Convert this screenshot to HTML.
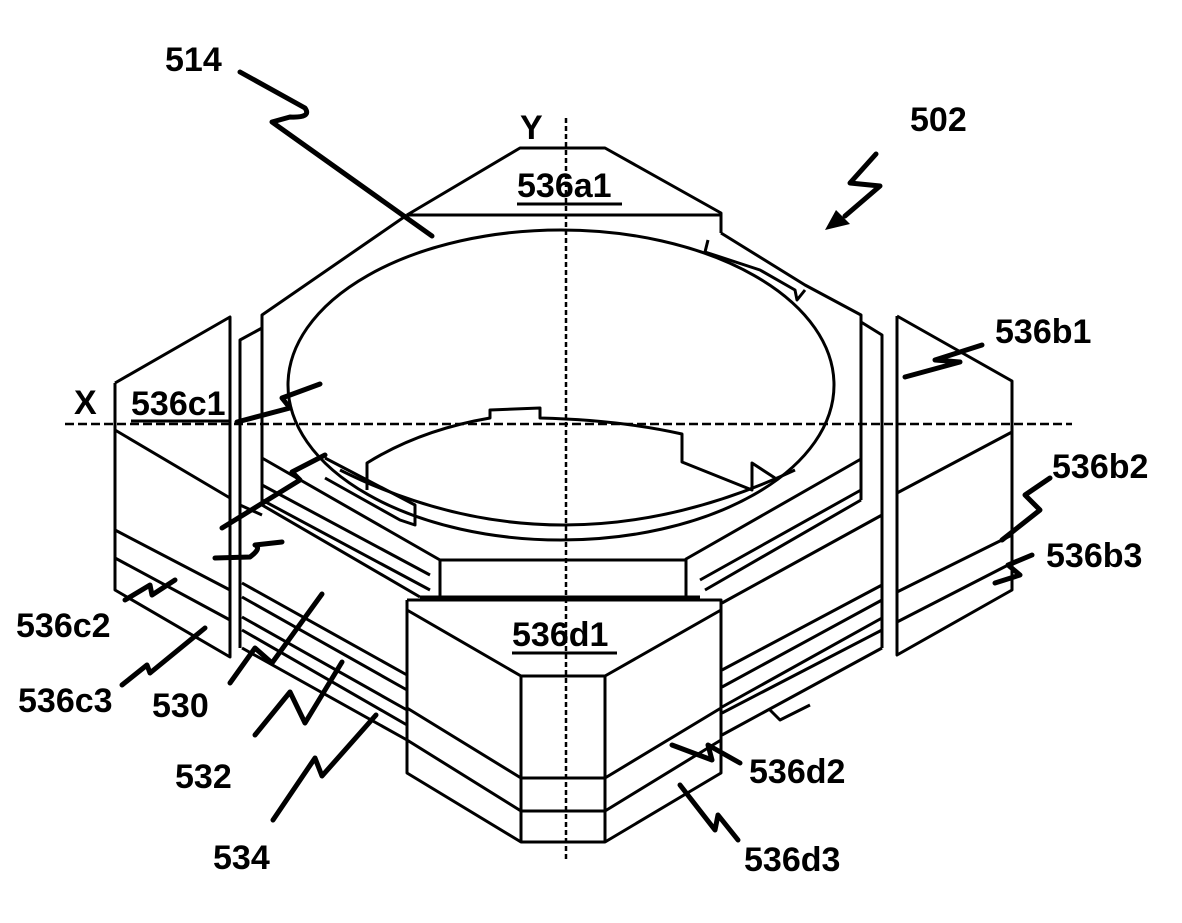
<!DOCTYPE html>
<html><head><meta charset="utf-8"><style>
html,body{margin:0;padding:0;background:#fff;}
svg{display:block}
text{font-family:"Liberation Sans",sans-serif;font-weight:bold;font-size:34px;fill:#000}
</style></head><body>
<svg width="1182" height="923" viewBox="0 0 1182 923" xmlns="http://www.w3.org/2000/svg">
<g fill="none" stroke="#000" stroke-width="3" stroke-linejoin="round">
<!-- top pad 536a1 -->
<polyline points="407,215 520,148 605,148 721,213 721,233"/>
<line x1="407" y1="215" x2="721" y2="215"/>
<!-- octagon top -->
<polyline points="407,215 262,315 262,505"/>
<polyline points="721,233 805,285 861,315 861,500"/>
<polyline points="262,458 440,560 440,597"/>
<polyline points="861,459 686,559 686,597"/>
<line x1="440" y1="560" x2="686" y2="560"/>
<line x1="420" y1="597" x2="700" y2="597"/>
<!-- ellipse -->
<ellipse cx="561" cy="385" rx="273" ry="155"/>
<path d="M367,490 L367,463 Q420,430 490,418 L490,410 L540,408 L540,418 Q620,420 682,434 L682,462 L752,490 L752,463 L775,478"/>
<path d="M340,470 Q560,580 795,470" />
<polyline points="325,458 415,505 415,525 400,520 325,478"/>
<line x1="262" y1="485" x2="430" y2="575"/>
<line x1="262" y1="500" x2="430" y2="590"/>
<line x1="262" y1="505" x2="420" y2="597"/>
<polyline points="708,240 705,252 760,270 795,290 797,300 805,290"/>
<line x1="700" y1="580" x2="861" y2="490"/>
<line x1="705" y1="590" x2="861" y2="500"/>
<!-- left plate 536c -->
<polyline points="115,383 230,317 230,657 115,590 115,383"/>
<line x1="115" y1="430" x2="230" y2="498"/>
<line x1="115" y1="530" x2="230" y2="590"/>
<line x1="115" y1="558" x2="230" y2="620"/>
<polyline points="240,648 240,340 262,328"/>
<line x1="240" y1="505" x2="262" y2="515"/>
<line x1="242" y1="583" x2="407" y2="675"/>
<line x1="242" y1="597" x2="407" y2="690"/>
<line x1="242" y1="617" x2="407" y2="710"/>
<line x1="242" y1="630" x2="407" y2="725"/>
<line x1="242" y1="648" x2="407" y2="740"/>
<polyline points="861,322 882,335 882,648"/>
<line x1="722" y1="603" x2="882" y2="515"/>
<line x1="722" y1="670" x2="882" y2="585"/>
<line x1="722" y1="687" x2="882" y2="600"/>
<line x1="722" y1="707" x2="882" y2="618"/>
<line x1="722" y1="713" x2="882" y2="630"/>
<line x1="722" y1="735" x2="882" y2="648"/>
<path d="M770,710 L780,720 L810,705"/>
<!-- right plate 536b -->
<polyline points="897,316 1012,381 1012,590 897,655 897,316"/>
<line x1="897" y1="493" x2="1012" y2="432"/>
<line x1="897" y1="592" x2="1012" y2="535"/>
<line x1="897" y1="622" x2="1012" y2="563"/>
<!-- front pad 536d -->
<polyline points="407,600 721,600 721,773 605,842 521,842 407,773 407,600" fill="#fff"/>
<polyline points="407,610 521,676 605,676 721,610"/>
<line x1="521" y1="676" x2="521" y2="842"/>
<line x1="605" y1="676" x2="605" y2="842"/>
<polyline points="407,708 521,778 605,778 721,708"/>
<polyline points="407,740 521,811 605,811 721,740"/>
<!-- axes -->
<line x1="566" y1="118" x2="566" y2="860" stroke-dasharray="5,3" stroke-width="2.5"/>
<line x1="65" y1="424" x2="1072" y2="424" stroke-dasharray="9,4" stroke-width="2.5"/>
</g>
<g fill="none" stroke="#000" stroke-width="5" stroke-linecap="round" stroke-linejoin="round">
<path d="M240,72 L305,108 Q312,118 290,117 L272,122 L432,236"/>
<path d="M876,154 L850,183 L880,186 L845,216"/>
<path d="M905,377 L960,362 L935,360 L982,345"/>
<path d="M237,422 L290,408 L282,398 L320,384"/>
<path d="M222,528 L300,480 L292,472 L325,455"/>
<path d="M215,558 L250,557 Q262,548 255,545 L282,542"/>
<path d="M125,600 L150,585 L152,595 L175,580"/>
<path d="M122,685 L147,665 L150,673 L205,628"/>
<path d="M230,683 L255,648 L272,663 L322,594"/>
<path d="M255,735 L290,692 L305,723 L342,662"/>
<path d="M273,820 L315,758 L322,776 L376,715"/>
<path d="M1002,540 L1040,510 L1025,495 L1050,478"/>
<path d="M995,583 L1020,575 L1008,565 L1032,555"/>
<path d="M672,745 L712,760 L708,745 L740,763"/>
<path d="M680,785 L715,830 L718,815 L738,840"/>
</g>
<polygon points="825,230 836,210 850,224" fill="#000"/>
<text x="165" y="71">514</text>
<text x="910" y="131">502</text>
<text x="520" y="139">Y</text>
<text x="74" y="414">X</text>
<text x="517" y="197">536a1</text>
<line x1="517" y1="204" x2="622" y2="204" stroke="#000" stroke-width="3"/>
<text x="131" y="415">536c1</text>
<line x1="131" y1="421" x2="230" y2="421" stroke="#000" stroke-width="3"/>
<text x="512" y="646">536d1</text>
<line x1="512" y1="653" x2="617" y2="653" stroke="#000" stroke-width="3"/>
<text x="995" y="343">536b1</text>
<text x="1052" y="478">536b2</text>
<text x="1046" y="567">536b3</text>
<text x="16" y="637">536c2</text>
<text x="18" y="712">536c3</text>
<text x="152" y="717">530</text>
<text x="175" y="788">532</text>
<text x="213" y="869">534</text>
<text x="749" y="783">536d2</text>
<text x="744" y="871">536d3</text>
</svg>
</body></html>
